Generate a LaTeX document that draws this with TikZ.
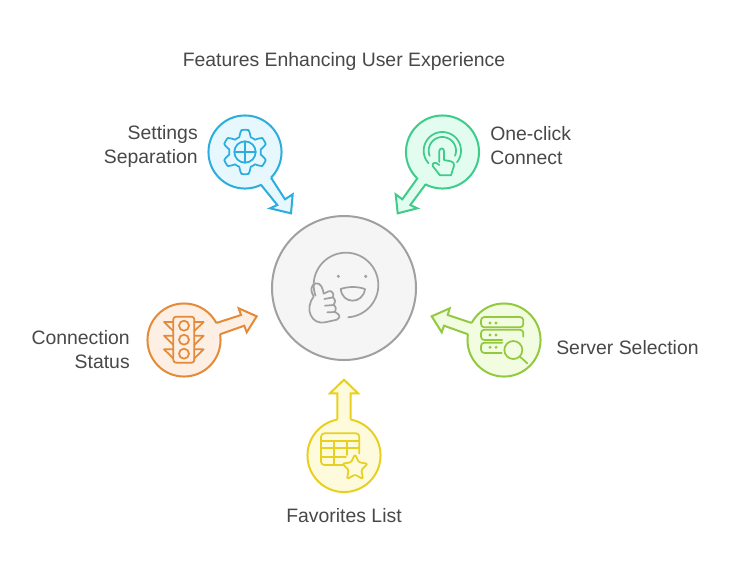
\documentclass[tikz,border=0pt]{standalone}
\usepackage{fontspec}
\setmainfont{Liberation Sans}
\definecolor{txt}{HTML}{484848}
\definecolor{cG}{HTML}{A0A0A0}\definecolor{fG}{HTML}{F5F5F5}
\definecolor{cB}{HTML}{2BAEDD}\definecolor{fB}{HTML}{E6F8FE}
\definecolor{cT}{HTML}{3DCC8A}\definecolor{fT}{HTML}{E3FCF0}
\definecolor{cO}{HTML}{E38B38}\definecolor{fO}{HTML}{FDEFE3}
\definecolor{cL}{HTML}{93C93F}\definecolor{fL}{HTML}{F2FCE0}
\definecolor{cY}{HTML}{E8D020}\definecolor{fY}{HTML}{FEFBDC}
\tikzset{
  x=.75pt,y=-.75pt,
  ball/.style={circle,draw=#1,line width=1.5pt,inner sep=0pt,outer sep=0pt,minimum size=54.8pt},
  shaft/.style={draw=#1,line width=1.5pt,line join=miter},
  icon/.style={draw=#1,line width=1.3pt,line cap=round,line join=round},
  lbl/.style={text=txt,font=\fontsize{14.55pt}{18pt}\selectfont,inner sep=0pt,align=#1},
  zoomed/.style={x=.25pt,y=-.25pt}
}
\begin{document}
\begin{tikzpicture}
\useasboundingbox (0,0) rectangle (734,576);
\fill[white] (0,0) rectangle (734,576);
\node[lbl=center,anchor=base] (title) at (344,66) {Features Enhancing User Experience};

% hub
\node[circle,draw=cG,fill=fG,line width=1.5pt,inner sep=0pt,outer sep=0pt,minimum size=108pt] (hub) at (344,288) {};
\begin{scope}[shift={(270,215)},zoomed]
\draw[icon=cG] plot[samples=50,domain=-86:199,variable=\t] ({228+97*cos(\t)},{210-97*sin(\t)});
\fill[cG] (205,184) circle[radius=1.3pt];
\fill[cG] (287,184) circle[radius=1.3pt];
\draw[icon=cG] (212,222) .. controls (235,214) and (262,214) .. (285,222) .. controls (282,245) and (265,257) .. (248,257) .. controls (230,257) and (215,245) .. (212,222) -- cycle;
\draw[icon=cG] (131,244) .. controls (120,228) and (122,210) .. (137,205) .. controls (152,203) and (158,218) .. (161,236) -- (176,229) .. controls (186,226) and (193,236) .. (189,247) .. controls (197,254) and (197,264) .. (191,270) .. controls (199,276) and (199,284) .. (195,291) -- (204,297) .. controls (211,303) and (209,312) .. (201,314) -- (165,322) .. controls (145,325) and (130,318) .. (122,300) .. controls (114,285) and (118,262) .. (131,244) -- cycle;
\draw[icon=cG] (163,252) -- (189,247) (165,272) -- (191,270) (172,292) -- (195,291);
\end{scope}

% settings
\node[ball=cB,fill=fB] (settings) at (245,152) {};
\fill[fB] (settings.center) -- ([shift={(16,31.7)}]settings.center) -- (277.3,205) -- (270,208.3) -- (291,213.3) -- (292.7,194.3) -- (285,199.3) -- ([shift={(26,25.6)}]settings.center) -- cycle;
\draw[shaft=cB] ([shift={(26,25.6)}]settings.center) -- (285,199.3) -- (292.7,194.3) -- (291,213.3) -- (270,208.3) -- (277.3,205) -- ([shift={(16,32.8)}]settings.center);
\draw[icon=cB] plot[samples=120,domain=0:357,variable=\t,smooth cycle] ({245+(19+3.2*max(min(1.7*cos(6*(\t-90)),1),-1))*cos(\t)},{152+(19+3.2*max(min(1.7*cos(6*(\t-90)),1),-1))*sin(\t)});
\node[circle,draw=cB,line width=1.3pt,inner sep=0pt,outer sep=0pt,minimum size=16pt] (gearhub) at (245,152) {};
\draw[icon=cB] (gearhub.west) -- (gearhub.east) (gearhub.north) -- (gearhub.south);
\node[lbl=right,anchor=east] (settingsT) at (198,146) {Settings\\Separation};

% one-click
\node[ball=cT,fill=fT] (oneclick) at (442.5,152) {};
\fill[fT] (oneclick.center) -- ([shift={(-16.8,31.3)}]oneclick.center) -- (410.3,205) -- (417.3,208.3) -- (397.7,213.3) -- (395.7,194.3) -- (402.3,199.3) -- ([shift={(-24.8,25.3)}]oneclick.center) -- cycle;
\draw[shaft=cT] ([shift={(-16.8,32.2)}]oneclick.center) -- (410.3,205) -- (417.3,208.3) -- (397.7,213.3) -- (395.7,194.3) -- (402.3,199.3) -- ([shift={(-24.8,25.8)}]oneclick.center);
\begin{scope}[shift={(385,100)},zoomed]
\draw[icon=cT] plot[samples=40,domain=-38:222,variable=\t] ({172+56*cos(\t)},{152-56*sin(\t)});
\draw[icon=cT] plot[samples=40,domain=-22:202,variable=\t] ({172+41*cos(\t)},{152-41*sin(\t)});
\draw[icon=cT] (163,186) -- (163,153) .. controls (163,143) and (177,143) .. (177,153) -- (177,180) -- (198,184) .. controls (205,186) and (208,190) .. (207,197) -- (198,226) -- (165,226) -- (143,198) .. controls (140,190) and (150,183) .. (163,195);
\end{scope}
\node[lbl=left,anchor=west] (oneclickT) at (490,146) {One-click\\Connect};

% connection status
\node[ball=cO,fill=fO] (status) at (184,340) {};
\fill[fO] (status.center) -- ([shift={(32,-16.7)}]status.center) -- (241,315) -- (238.7,308.3) -- (256.7,316.3) -- (246.7,332.3) -- (244.3,325.7) -- ([shift={(36,-5.7)}]status.center) -- cycle;
\draw[shaft=cO] ([shift={(32.3,-17)}]status.center) -- (241,315) -- (238.7,308.3) -- (256.7,316.3) -- (246.7,332.3) -- (244.3,325.7) -- ([shift={(36,-5.7)}]status.center);
\begin{scope}[shift={(140,295)},zoomed]
\draw[icon=cO,rounded corners=2pt] (100,65) rectangle (163,203);
\draw[icon=cO] (132,92) circle[radius=15] (132,134) circle[radius=15] (132,176) circle[radius=15];
\draw[icon=cO] (100,81) -- (72,81) -- (100,108) (100,122) -- (72,122) -- (100,150) (100,163) -- (72,163) -- (100,190);
\draw[icon=cO] (163,81) -- (191,81) -- (163,108) (163,122) -- (191,122) -- (163,150) (163,163) -- (191,163) -- (163,190);
\end{scope}
\node[lbl=right,anchor=east] (statusT) at (130,350) {Connection\\Status};

% server selection
\node[ball=cL,fill=fL] (server) at (504,340) {};
\fill[fL] (server.center) -- ([shift={(-31.3,-16.7)}]server.center) -- (447.7,315) -- (449.7,308.3) -- (431.7,316.3) -- (441.7,332.3) -- (444,325.7) -- ([shift={(-36,-5.7)}]server.center) -- cycle;
\draw[shaft=cL] ([shift={(-32.3,-17)}]server.center) -- (447.7,315) -- (449.7,308.3) -- (431.7,316.3) -- (441.7,332.3) -- (444,325.7) -- ([shift={(-36,-5.7)}]server.center);
\begin{scope}[shift={(425,295)},zoomed]
\draw[icon=cL,rounded corners=2.5pt] (168,66) rectangle (295,97);
\draw[icon=cL,rounded corners=2.5pt] (232,135) -- (168,135) -- (168,104) -- (295,104) -- (295,125);
\draw[icon=cL,rounded corners=2.5pt] (230,174) -- (168,174) -- (168,143) -- (232,143);
\fill[cL] (195,84) circle[radius=1.2pt] (213,84) circle[radius=1.2pt] (195,120) circle[radius=1.2pt] (213,120) circle[radius=1.2pt] (195,157) circle[radius=1.2pt] (213,157) circle[radius=1.2pt];
\draw[icon=cL] (265,165) circle[radius=27];
\draw[icon=cL] (285,185) -- (307,205);
\end{scope}
\node[lbl=left,anchor=base west] (serverT) at (556,354) {Server Selection};

% favorites
\node[ball=cY,fill=fY] (fav) at (344,455.5) {};
\fill[fY] (fav.center) -- ([shift={(-6.7,-35.9)}]fav.center) -- (337.3,393.3) -- (330,393.3) -- (344,379.7) -- (357.3,393.3) -- (350.7,393.3) -- ([shift={(6.7,-35.9)}]fav.center) -- cycle;
\draw[shaft=cY] ([shift={(-6.7,-35.9)}]fav.center) -- (337.3,393.3) -- (330,393.3) -- (344,379.7) -- (358,393.3) -- (350.7,393.3) -- ([shift={(6.7,-35.9)}]fav.center);
\begin{scope}[shift={(300,375)},zoomed]
\draw[icon=cY,rounded corners=2.5pt] (130,270) -- (63,270) -- (63,175) -- (178,175) -- (178,236);
\draw[icon=cY] (63,197) -- (178,197) (63,220) -- (178,220) (63,245) -- (138,245) (103,197) -- (103,270) (142,197) -- (142,240);
\draw[icon=cY,fill=fY,rounded corners=1pt] (165,238) -- (177,262) -- (203,266) -- (184,285) -- (189,312) -- (165,299) -- (141,312) -- (146,285) -- (127,266) -- (153,262) -- cycle;
\end{scope}
\node[lbl=center,anchor=base] (favT) at (344,522) {Favorites List};
\end{tikzpicture}
\end{document}
